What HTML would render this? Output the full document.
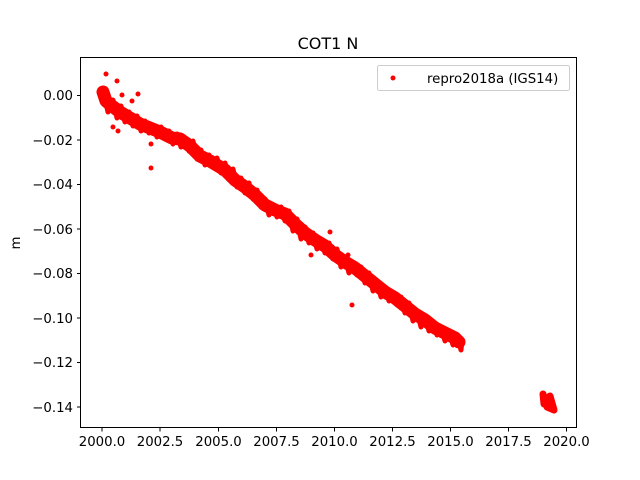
<!DOCTYPE html>
<html><head><style>body{margin:0;background:#fff}svg{display:block}text{font-family:"DejaVu Sans","Liberation Sans",sans-serif;font-size:13.3px;fill:#000}</style></head>
<body>
<svg width="640" height="480" xmlns="http://www.w3.org/2000/svg">
<rect width="640" height="480" fill="#fff"/>
<text x="328" y="49" text-anchor="middle" style="font-size:16px">COT1 N</text>
<g fill="none" stroke="#f00" stroke-linecap="round" stroke-linejoin="round">
<polyline stroke-width="13" points="103,92 106,101 112,106 120,112 130,118 140,124 150,128 160,132 172,138 180,139 190,146 200,156 210,161 225,170 235,180 245,187 255,195 265,205 275,210 285,214 295,224 305,233 315,240 325,246 335,255 345,262 355,268 365,276 375,284 385,292 395,298 405,306 415,314 425,320 435,328 445,333 455,338 459,342"/>
<polyline stroke-width="5" points="104,95 108,112 113,100 117,118 121,106 125,122 129,112 133,126 137,116 141,131 145,121 149,133 153,125 157,137 161,127 165,139 169,131 173,144 177,134 181,147 185,138 189,151 193,141 197,159 201,150 205,165 209,155 213,167 217,158 221,173 225,163 229,179 233,169 237,187 241,178 245,193 249,183 253,199 257,190 261,207 265,199 269,215 273,205 277,217 281,207 285,221 289,211 293,231 297,219 301,239 305,227 309,243 313,233 317,249 321,239 325,253 329,243 333,259 337,249 341,267 345,257 349,273 353,263 357,275 361,267 365,283 369,273 373,291 377,281 381,297 385,287 389,301 393,293 397,305 401,297 405,313 409,303 413,321 417,311 421,327 425,317 429,331 433,323 437,335 441,327 445,341 449,331 453,345 457,335 461,350 462,340"/>
<polyline stroke-width="7" points="543,394 544,404 550,402 553,408 545,400 550,396 554,410 547,407"/>
</g>
<g fill="#f00">
<circle cx="106" cy="74" r="2.5"/><circle cx="117" cy="81" r="2.5"/><circle cx="122" cy="95" r="2.5"/>
<circle cx="138" cy="94" r="2.5"/><circle cx="132" cy="101" r="2.5"/><circle cx="113" cy="127" r="2.5"/>
<circle cx="118" cy="131" r="2.5"/><circle cx="151" cy="144" r="2.5"/><circle cx="151" cy="168" r="2.5"/>
<circle cx="330" cy="232" r="2.5"/><circle cx="311" cy="255" r="2.5"/><circle cx="352" cy="305" r="2.5"/>
<circle cx="348" cy="255" r="2.5"/>
</g>
<rect x="80.5" y="57.5" width="496" height="370" fill="none" stroke="#000" stroke-width="1"/>
<g stroke="#000" stroke-width="1">
<line x1="102" y1="428" x2="102" y2="431.5"/><line x1="160" y1="428" x2="160" y2="431.5"/>
<line x1="218.5" y1="428" x2="218.5" y2="431.5"/><line x1="276.5" y1="428" x2="276.5" y2="431.5"/>
<line x1="334.5" y1="428" x2="334.5" y2="431.5"/><line x1="392.5" y1="428" x2="392.5" y2="431.5"/>
<line x1="450.5" y1="428" x2="450.5" y2="431.5"/><line x1="508.5" y1="428" x2="508.5" y2="431.5"/>
<line x1="566.5" y1="428" x2="566.5" y2="431.5"/>
<line x1="77" y1="95.5" x2="80" y2="95.5"/><line x1="77" y1="140" x2="80" y2="140"/>
<line x1="77" y1="184.5" x2="80" y2="184.5"/><line x1="77" y1="229" x2="80" y2="229"/>
<line x1="77" y1="273.5" x2="80" y2="273.5"/><line x1="77" y1="318" x2="80" y2="318"/>
<line x1="77" y1="362.5" x2="80" y2="362.5"/><line x1="77" y1="407" x2="80" y2="407"/>
</g>
<g text-anchor="middle">
<text x="102" y="446">2000.0</text><text x="160" y="446">2002.5</text><text x="218.5" y="446">2005.0</text>
<text x="276.5" y="446">2007.5</text><text x="334.5" y="446">2010.0</text><text x="392.5" y="446">2012.5</text>
<text x="450.5" y="446">2015.0</text><text x="508.5" y="446">2017.5</text><text x="566.5" y="446">2020.0</text>
</g>
<g text-anchor="end">
<text x="73" y="100">0.00</text><text x="73" y="145">−0.02</text><text x="73" y="189">−0.04</text>
<text x="73" y="234">−0.06</text><text x="73" y="278">−0.08</text><text x="73" y="323">−0.10</text>
<text x="73" y="367">−0.12</text><text x="73" y="412">−0.14</text>
</g>
<text x="20" y="243" text-anchor="middle" transform="rotate(-90 20 243)">m</text>
<rect x="377.5" y="65.5" width="192" height="25" rx="2" fill="#fff" stroke="#ccc"/>
<circle cx="393" cy="78" r="2.5" fill="#f00"/>
<text x="427" y="83">repro2018a (IGS14)</text>
</svg>
</body></html>
